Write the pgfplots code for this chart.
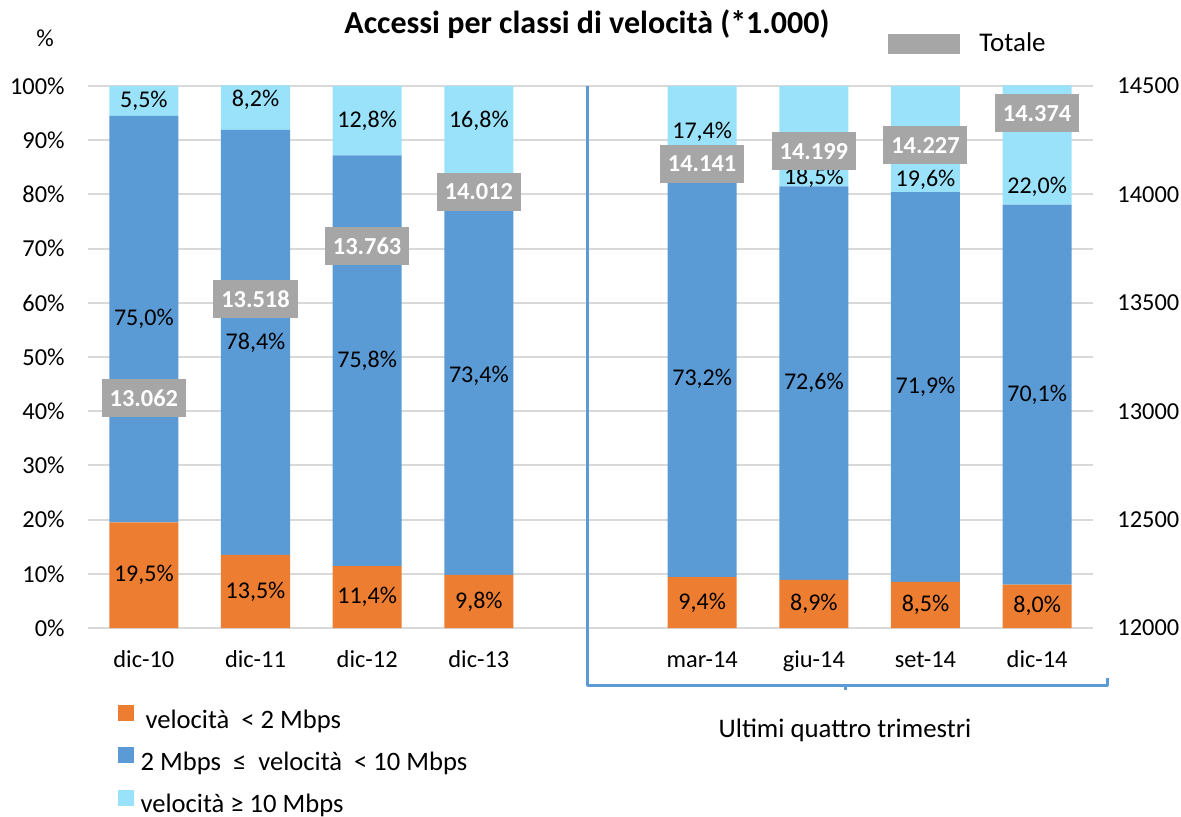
\documentclass[border=0pt]{standalone}
\usepackage{pgfplots}
\pgfplotsset{compat=1.18}
\usepackage{fontspec}
\setmainfont{Carlito}
\definecolor{corange}{HTML}{ED7D31}
\definecolor{cblue}{HTML}{5B9BD5}
\definecolor{clight}{HTML}{99E2FA}
\definecolor{cgray}{HTML}{A6A6A6}
\definecolor{cgrid}{HTML}{D9D9D9}
\begin{document}
\begin{tikzpicture}
\path[use as bounding box] (0,0) rectangle (590.5pt,408pt);
\pgfplotsset{
  base/.style={
    at={(44pt,94pt)}, anchor=south west,
    width=502.5pt, height=271pt, scale only axis,
    xmin=-0.5, xmax=8.5, clip=false,
  }
}
% bars
\begin{axis}[base,
  ybar stacked, bar width=34.5pt,
  ymin=0, ymax=100,
  ytick={0,10,...,100},
  yticklabels={0\%,10\%,20\%,30\%,40\%,50\%,60\%,70\%,80\%,90\%,100\%},
  xtick={0,1,2,3,5,6,7,8},
  xticklabels={dic-10,dic-11,dic-12,dic-13,mar-14,giu-14,set-14,dic-14},
  ymajorgrids, grid style={cgrid, line width=1pt},
  axis line style={draw=none},
  major tick length=0pt,
  tick label style={font=\fontsize{12.2}{14}\selectfont},
  yticklabel style={anchor=east, inner sep=0pt, xshift=-11.5pt},
  xticklabel style={anchor=base, inner sep=0pt, yshift=-19.5pt},
  legend style={at={(rel axis cs:0.029,-0.1415)}, anchor=north west,
    draw=none, fill=none, inner sep=0pt, row sep=6.6pt,
    font=\fontsize{13.3}{15}\selectfont,
    nodes={inner sep=0pt, text height=9.5pt, text depth=3pt},
    /tikz/every odd column/.style={column sep=3.5pt}},
  legend cell align=left,
]
\addplot[fill=corange, draw=none,
  legend image code/.code={\fill[corange] (0pt,0.3pt) rectangle (8pt,8.3pt);}]
  coordinates {(0,19.5) (1,13.5) (2,11.4) (3,9.8) (5,9.4) (6,8.9) (7,8.5) (8,8.0)};
\addplot[fill=cblue, draw=none,
  legend image code/.code={\fill[cblue] (0pt,0.3pt) rectangle (8pt,8.3pt);}]
  coordinates {(0,75.0) (1,78.4) (2,75.8) (3,73.4) (5,73.2) (6,72.6) (7,71.9) (8,70.1)};
\addplot[fill=clight, draw=none,
  legend image code/.code={\fill[clight] (0pt,0.3pt) rectangle (8pt,8.3pt);}]
  coordinates {(0,5.5) (1,8.2) (2,12.8) (3,16.8) (5,17.4) (6,18.5) (7,19.6) (8,22.0)};
\legend{\hspace{2.5pt}velocità \ < 2 Mbps, 2 Mbps \ ≤ \ velocità \ < 10 Mbps, velocità ≥ 10 Mbps}
\end{axis}
% percentage labels
\begin{axis}[base, hide axis, ymin=0, ymax=100]
\addplot[draw=none, nodes near coords, point meta=explicit symbolic,
  nodes near coords align=center,
  every node near coord/.style={anchor=center, font=\fontsize{12}{14}\selectfont, text=black}]
  table[meta=label] {
x y label
0 9.75 19,5\%
1 6.75 13,5\%
2 5.7 11,4\%
3 4.9 9,8\%
5 4.6 9,4\%
6 4.4 8,9\%
7 4.2 8,5\%
8 4.0 8,0\%
0 57.0 75,0\%
1 52.7 78,4\%
2 49.3 75,8\%
3 46.5 73,4\%
5 46.0 73,2\%
6 45.2 72,6\%
7 44.45 71,9\%
8 43.05 70,1\%
0 97.2 5,5\%
1 97.4 8,2\%
2 93.5 12,8\%
3 93.5 16,8\%
5 91.5 17,4\%
6 83.0 18,5\%
7 82.7 19,6\%
8 81.4 22,0\%
};
\end{axis}
% totals, right axis
\begin{axis}[base,
  ymin=12000, ymax=14500,
  ytick={12000,12500,13000,13500,14000,14500},
  yticklabels={12000,12500,13000,13500,14000,14500},
  scaled y ticks=false,
  axis y line*=right, axis x line=none,
  axis line style={draw=none}, major tick length=0pt,
  yticklabel style={anchor=west, inner sep=0pt, xshift=12pt, font=\fontsize{12.2}{14}\selectfont},
  legend style={at={(rel axis cs:0.796,1.0775)}, anchor=west,
    draw=none, fill=none, inner sep=0pt,
    font=\fontsize{13.5}{15}\selectfont,
    nodes={inner sep=0pt}},
]
\addplot[draw=none, nodes near coords, point meta=explicit symbolic,
  nodes near coords align=center,
  legend image code/.code={\fill[cgray] (0pt,-5pt) rectangle (36pt,5pt);},
  every node near coord/.style={anchor=center, fill=cgray, text=white,
    font=\bfseries\fontsize{12.2}{14}\selectfont, minimum width=42pt, minimum height=19pt, inner sep=0pt}]
  table[meta=label] {
x y label
0 13062 13.062
1 13518 13.518
2 13763 13.763
3 14012 14.012
5 14141 14.141
6 14199 14.199
7 14227 14.227
8 14374 14.374
};
\addlegendentry{\hspace{9.5pt}Totale}
\end{axis}
% title and annotations
\node[font=\bfseries\fontsize{16}{18}\selectfont] at (293.5pt,396pt) {Accessi per classi di velocità (*1.000)};
\node[font=\fontsize{12.2}{14}\selectfont] at (22.5pt,389pt) {\%};
\draw[cblue, line width=1.5pt, line join=round] (293.5pt,365pt) -- (293.5pt,65.5pt) -- (553.5pt,65.5pt) -- (553.5pt,69pt);
\draw[cblue, line width=1.5pt] (422.5pt,65.5pt) -- (422.5pt,63pt);
\node[font=\fontsize{13.4}{15}\selectfont] at (422.5pt,43pt) {Ultimi quattro trimestri};
\end{tikzpicture}
\end{document}
